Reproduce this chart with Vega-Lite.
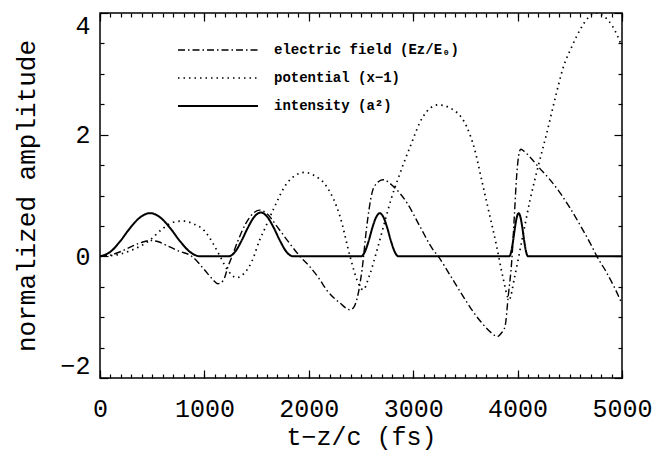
{
  "$schema": "https://vega.github.io/schema/vega-lite/v6.json",
  "width": 522,
  "height": 365,
  "autosize": "none",
  "padding": {"left": 100, "top": 13, "right": 35, "bottom": 75},
  "config": {
    "font": "Liberation Mono",
    "view": {"stroke": "black", "strokeWidth": 1.5},
    "axis": {
      "domain": false,
      "grid": false,
      "tickColor": "black",
      "tickWidth": 1.2,
      "labelColor": "black",
      "titleColor": "black",
      "labelFont": "Liberation Mono",
      "titleFont": "Liberation Mono",
      "labelFontSize": 25,
      "titleFontSize": 26,
      "titleFontWeight": "normal"
    },
    "legend": {
      "orient": "none",
      "legendX": 107,
      "legendY": 26,
      "title": null,
      "padding": 0,
      "symbolType": "M-4,0H4",
      "symbolSize": 400,
      "symbolStrokeColor": "black",
      "labelFont": "Liberation Mono",
      "labelFontWeight": "bold",
      "labelFontSize": 14,
      "labelColor": "black",
      "labelOffset": 45,
      "labelLimit": 400,
      "rowPadding": 10
    }
  },
  "datasets": {
    "curves": [
      {"t": 0, "value": 0, "series": "field"},
      {"t": 100, "value": 0.02, "series": "field"},
      {"t": 200, "value": 0.08, "series": "field"},
      {"t": 300, "value": 0.16, "series": "field"},
      {"t": 400, "value": 0.23, "series": "field"},
      {"t": 480, "value": 0.26, "series": "field"},
      {"t": 560, "value": 0.24, "series": "field"},
      {"t": 650, "value": 0.17, "series": "field"},
      {"t": 750, "value": 0.09, "series": "field"},
      {"t": 880, "value": 0, "series": "field"},
      {"t": 1000, "value": -0.22, "series": "field"},
      {"t": 1080, "value": -0.38, "series": "field"},
      {"t": 1130, "value": -0.45, "series": "field"},
      {"t": 1180, "value": -0.4, "series": "field"},
      {"t": 1230, "value": -0.15, "series": "field"},
      {"t": 1265, "value": 0, "series": "field"},
      {"t": 1320, "value": 0.25, "series": "field"},
      {"t": 1400, "value": 0.55, "series": "field"},
      {"t": 1470, "value": 0.71, "series": "field"},
      {"t": 1530, "value": 0.76, "series": "field"},
      {"t": 1600, "value": 0.7, "series": "field"},
      {"t": 1700, "value": 0.48, "series": "field"},
      {"t": 1800, "value": 0.25, "series": "field"},
      {"t": 1915, "value": 0, "series": "field"},
      {"t": 2010, "value": -0.17, "series": "field"},
      {"t": 2100, "value": -0.37, "series": "field"},
      {"t": 2170, "value": -0.55, "series": "field"},
      {"t": 2300, "value": -0.77, "series": "field"},
      {"t": 2395, "value": -0.88, "series": "field"},
      {"t": 2430, "value": -0.84, "series": "field"},
      {"t": 2460, "value": -0.71, "series": "field"},
      {"t": 2510, "value": -0.22, "series": "field"},
      {"t": 2555, "value": 0.49, "series": "field"},
      {"t": 2605, "value": 1.04, "series": "field"},
      {"t": 2650, "value": 1.2, "series": "field"},
      {"t": 2710, "value": 1.26, "series": "field"},
      {"t": 2810, "value": 1.15, "series": "field"},
      {"t": 2940, "value": 0.88, "series": "field"},
      {"t": 3065, "value": 0.49, "series": "field"},
      {"t": 3190, "value": 0.11, "series": "field"},
      {"t": 3240, "value": 0, "series": "field"},
      {"t": 3350, "value": -0.3, "series": "field"},
      {"t": 3450, "value": -0.58, "series": "field"},
      {"t": 3550, "value": -0.85, "series": "field"},
      {"t": 3650, "value": -1.08, "series": "field"},
      {"t": 3750, "value": -1.26, "series": "field"},
      {"t": 3805, "value": -1.32, "series": "field"},
      {"t": 3845, "value": -1.26, "series": "field"},
      {"t": 3880, "value": -1.15, "series": "field"},
      {"t": 3910, "value": -0.66, "series": "field"},
      {"t": 3945, "value": -0.05, "series": "field"},
      {"t": 3970, "value": 0.7, "series": "field"},
      {"t": 3990, "value": 1.3, "series": "field"},
      {"t": 4010, "value": 1.65, "series": "field"},
      {"t": 4030, "value": 1.76, "series": "field"},
      {"t": 4060, "value": 1.73, "series": "field"},
      {"t": 4120, "value": 1.63, "series": "field"},
      {"t": 4200, "value": 1.47, "series": "field"},
      {"t": 4300, "value": 1.28, "series": "field"},
      {"t": 4400, "value": 1.06, "series": "field"},
      {"t": 4500, "value": 0.8, "series": "field"},
      {"t": 4600, "value": 0.51, "series": "field"},
      {"t": 4700, "value": 0.2, "series": "field"},
      {"t": 4760, "value": 0, "series": "field"},
      {"t": 4850, "value": -0.26, "series": "field"},
      {"t": 4930, "value": -0.52, "series": "field"},
      {"t": 5000, "value": -0.78, "series": "field"},

      {"t": 0, "value": 0, "series": "potential"},
      {"t": 100, "value": 0.01, "series": "potential"},
      {"t": 200, "value": 0.04, "series": "potential"},
      {"t": 300, "value": 0.1, "series": "potential"},
      {"t": 400, "value": 0.18, "series": "potential"},
      {"t": 480, "value": 0.27, "series": "potential"},
      {"t": 590, "value": 0.44, "series": "potential"},
      {"t": 700, "value": 0.56, "series": "potential"},
      {"t": 800, "value": 0.58, "series": "potential"},
      {"t": 900, "value": 0.53, "series": "potential"},
      {"t": 1000, "value": 0.42, "series": "potential"},
      {"t": 1080, "value": 0.22, "series": "potential"},
      {"t": 1150, "value": 0, "series": "potential"},
      {"t": 1220, "value": -0.22, "series": "potential"},
      {"t": 1310, "value": -0.35, "series": "potential"},
      {"t": 1380, "value": -0.28, "series": "potential"},
      {"t": 1455, "value": -0.08, "series": "potential"},
      {"t": 1530, "value": 0.27, "series": "potential"},
      {"t": 1580, "value": 0.46, "series": "potential"},
      {"t": 1660, "value": 0.77, "series": "potential"},
      {"t": 1790, "value": 1.2, "series": "potential"},
      {"t": 1880, "value": 1.34, "series": "potential"},
      {"t": 1960, "value": 1.38, "series": "potential"},
      {"t": 2050, "value": 1.33, "series": "potential"},
      {"t": 2170, "value": 1.15, "series": "potential"},
      {"t": 2300, "value": 0.65, "series": "potential"},
      {"t": 2395, "value": 0, "series": "potential"},
      {"t": 2460, "value": -0.38, "series": "potential"},
      {"t": 2520, "value": -0.55, "series": "potential"},
      {"t": 2580, "value": -0.32, "series": "potential"},
      {"t": 2650, "value": 0.08, "series": "potential"},
      {"t": 2720, "value": 0.52, "series": "potential"},
      {"t": 2790, "value": 0.95, "series": "potential"},
      {"t": 2860, "value": 1.3, "series": "potential"},
      {"t": 2970, "value": 1.8, "series": "potential"},
      {"t": 3095, "value": 2.3, "series": "potential"},
      {"t": 3240, "value": 2.49, "series": "potential"},
      {"t": 3350, "value": 2.44, "series": "potential"},
      {"t": 3510, "value": 2.14, "series": "potential"},
      {"t": 3590, "value": 1.75, "series": "potential"},
      {"t": 3655, "value": 1.26, "series": "potential"},
      {"t": 3720, "value": 0.77, "series": "potential"},
      {"t": 3800, "value": 0.16, "series": "potential"},
      {"t": 3860, "value": -0.35, "series": "potential"},
      {"t": 3920, "value": -0.71, "series": "potential"},
      {"t": 3970, "value": -0.35, "series": "potential"},
      {"t": 4040, "value": 0.25, "series": "potential"},
      {"t": 4120, "value": 0.93, "series": "potential"},
      {"t": 4200, "value": 1.5, "series": "potential"},
      {"t": 4280, "value": 2.03, "series": "potential"},
      {"t": 4360, "value": 2.6, "series": "potential"},
      {"t": 4440, "value": 3.12, "series": "potential"},
      {"t": 4520, "value": 3.45, "series": "potential"},
      {"t": 4600, "value": 3.73, "series": "potential"},
      {"t": 4680, "value": 3.93, "series": "potential"},
      {"t": 4750, "value": 4.0, "series": "potential"},
      {"t": 4830, "value": 3.94, "series": "potential"},
      {"t": 4910, "value": 3.78, "series": "potential"},
      {"t": 5000, "value": 3.45, "series": "potential"},

      {"t": 0, "value": 0, "series": "intensity"},
      {"t": 96, "value": 0.07, "series": "intensity"},
      {"t": 192, "value": 0.245, "series": "intensity"},
      {"t": 288, "value": 0.465, "series": "intensity"},
      {"t": 384, "value": 0.64, "series": "intensity"},
      {"t": 480, "value": 0.71, "series": "intensity"},
      {"t": 576, "value": 0.64, "series": "intensity"},
      {"t": 672, "value": 0.465, "series": "intensity"},
      {"t": 768, "value": 0.245, "series": "intensity"},
      {"t": 864, "value": 0.07, "series": "intensity"},
      {"t": 960, "value": 0, "series": "intensity"},
      {"t": 1230, "value": 0, "series": "intensity"},
      {"t": 1292, "value": 0.07, "series": "intensity"},
      {"t": 1354, "value": 0.25, "series": "intensity"},
      {"t": 1416, "value": 0.47, "series": "intensity"},
      {"t": 1478, "value": 0.65, "series": "intensity"},
      {"t": 1540, "value": 0.72, "series": "intensity"},
      {"t": 1602, "value": 0.65, "series": "intensity"},
      {"t": 1664, "value": 0.47, "series": "intensity"},
      {"t": 1726, "value": 0.25, "series": "intensity"},
      {"t": 1788, "value": 0.07, "series": "intensity"},
      {"t": 1850, "value": 0, "series": "intensity"},
      {"t": 2500, "value": 0, "series": "intensity"},
      {"t": 2536, "value": 0.07, "series": "intensity"},
      {"t": 2572, "value": 0.245, "series": "intensity"},
      {"t": 2608, "value": 0.465, "series": "intensity"},
      {"t": 2644, "value": 0.64, "series": "intensity"},
      {"t": 2680, "value": 0.71, "series": "intensity"},
      {"t": 2716, "value": 0.64, "series": "intensity"},
      {"t": 2752, "value": 0.465, "series": "intensity"},
      {"t": 2788, "value": 0.245, "series": "intensity"},
      {"t": 2824, "value": 0.07, "series": "intensity"},
      {"t": 2860, "value": 0, "series": "intensity"},
      {"t": 3920, "value": 0, "series": "intensity"},
      {"t": 3938, "value": 0.07, "series": "intensity"},
      {"t": 3956, "value": 0.245, "series": "intensity"},
      {"t": 3974, "value": 0.465, "series": "intensity"},
      {"t": 3992, "value": 0.64, "series": "intensity"},
      {"t": 4010, "value": 0.71, "series": "intensity"},
      {"t": 4028, "value": 0.64, "series": "intensity"},
      {"t": 4046, "value": 0.465, "series": "intensity"},
      {"t": 4064, "value": 0.245, "series": "intensity"},
      {"t": 4082, "value": 0.07, "series": "intensity"},
      {"t": 4100, "value": 0, "series": "intensity"},
      {"t": 5000, "value": 0, "series": "intensity"}
    ]
  },
  "data": {"name": "curves"},
  "layer": [
    {
      "mark": {"type": "line", "interpolate": "monotone", "color": "black", "strokeCap": "butt", "clip": true},
      "encoding": {
        "x": {
          "field": "t", "type": "quantitative",
          "scale": {"domain": [0, 5000], "nice": false, "zero": false},
          "axis": {
            "orient": "bottom", "values": [0, 1000, 2000, 3000, 4000, 5000], "format": "d",
            "ticks": false, "tickSize": 0, "labelPadding": 18, "labelFlush": false,
            "title": "t−z/c (fs)", "titlePadding": 3, "titleFontSize": 25
          }
        },
        "y": {
          "field": "value", "type": "quantitative",
          "scale": {"domain": [-2, 4], "nice": false, "zero": false},
          "axis": {
            "orient": "left", "values": [-2, 0, 2, 4], "format": "d",
            "ticks": false, "tickSize": 0, "labelPadding": 10, "labelFlush": true,
            "title": "normalized amplitude", "titlePadding": 20
          }
        },
        "strokeDash": {
          "field": "series", "type": "nominal",
          "scale": {
            "domain": ["field", "potential", "intensity"],
            "range": [[7, 3, 1.5, 3], [1.5, 4], [1, 0]]
          },
          "legend": {
            "labelExpr": "datum.label == 'field' ? 'electric field (Ez/E₀)' : datum.label == 'potential' ? 'potential (x−1)' : 'intensity (a²)'"
          }
        },
        "strokeWidth": {
          "field": "series", "type": "nominal",
          "scale": {"domain": ["field", "potential", "intensity"], "range": [1.4, 2, 3]},
          "legend": {
            "labelExpr": "datum.label == 'field' ? 'electric field (Ez/E₀)' : datum.label == 'potential' ? 'potential (x−1)' : 'intensity (a²)'"
          }
        }
      }
    },
    {
      "mark": {"type": "point", "opacity": 0},
      "encoding": {
        "x": {"field": "t", "type": "quantitative", "scale": {"domain": [0, 5000], "nice": false, "zero": false},
          "axis": {"orient": "top", "offset": -365, "tickSize": 8, "labels": false, "title": null,
            "values": [0, 1000, 2000, 3000, 4000, 5000]}},
        "y": {"field": "value", "type": "quantitative", "scale": {"domain": [-2, 4], "nice": false, "zero": false},
          "axis": {"orient": "right", "offset": -522, "tickSize": 8, "labels": false, "title": null,
            "values": [-2, 0, 2, 4]}}
      }
    },
    {
      "mark": {"type": "point", "opacity": 0},
      "encoding": {
        "x": {"field": "t", "type": "quantitative", "scale": {"domain": [0, 5000], "nice": false, "zero": false},
          "axis": {"orient": "top", "offset": -365, "tickSize": 4, "labels": false, "title": null,
            "values": [0,100,200,300,400,500,600,700,800,900,1000,1100,1200,1300,1400,1500,1600,1700,1800,1900,2000,2100,2200,2300,2400,2500,2600,2700,2800,2900,3000,3100,3200,3300,3400,3500,3600,3700,3800,3900,4000,4100,4200,4300,4400,4500,4600,4700,4800,4900,5000]}},
        "y": {"field": "value", "type": "quantitative", "scale": {"domain": [-2, 4], "nice": false, "zero": false},
          "axis": {"orient": "right", "offset": -522, "tickSize": 4, "labels": false, "title": null,
            "values": [-1.5, -1, -0.5, 0.5, 1, 1.5, 2.5, 3, 3.5]}}
      }
    },
    {
      "mark": {"type": "point", "opacity": 0},
      "encoding": {
        "x": {"field": "t", "type": "quantitative", "scale": {"domain": [0, 5000], "nice": false, "zero": false},
          "axis": {"orient": "bottom", "offset": -365, "tickSize": 8, "labels": false, "title": null,
            "values": [0, 1000, 2000, 3000, 4000, 5000]}},
        "y": {"field": "value", "type": "quantitative", "scale": {"domain": [-2, 4], "nice": false, "zero": false},
          "axis": {"orient": "left", "offset": -522, "tickSize": 8, "labels": false, "title": null,
            "values": [-2, 0, 2, 4]}}
      }
    },
    {
      "mark": {"type": "point", "opacity": 0},
      "encoding": {
        "x": {"field": "t", "type": "quantitative", "scale": {"domain": [0, 5000], "nice": false, "zero": false},
          "axis": {"orient": "bottom", "offset": -365, "tickSize": 4, "labels": false, "title": null,
            "values": [0,100,200,300,400,500,600,700,800,900,1000,1100,1200,1300,1400,1500,1600,1700,1800,1900,2000,2100,2200,2300,2400,2500,2600,2700,2800,2900,3000,3100,3200,3300,3400,3500,3600,3700,3800,3900,4000,4100,4200,4300,4400,4500,4600,4700,4800,4900,5000]}},
        "y": {"field": "value", "type": "quantitative", "scale": {"domain": [-2, 4], "nice": false, "zero": false},
          "axis": {"orient": "left", "offset": -522, "tickSize": 4, "labels": false, "title": null,
            "values": [-1.5, -1, -0.5, 0.5, 1, 1.5, 2.5, 3, 3.5]}}
      }
    }
  ],
  "resolve": {"axis": {"x": "independent", "y": "independent"}}
}
